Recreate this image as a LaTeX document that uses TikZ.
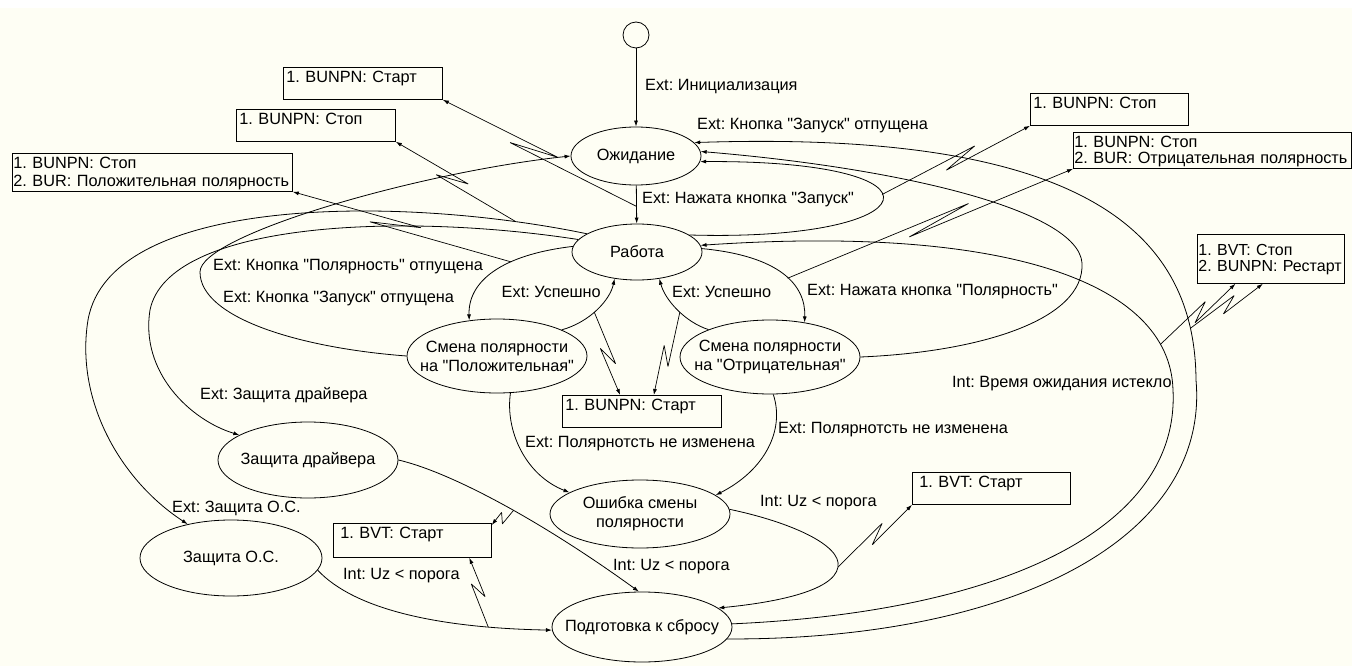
\documentclass[tikz,border=0pt]{standalone}
\usepackage{fontspec}
\setmainfont{Liberation Sans}[Ligatures=TeXOff]
\frenchspacing
\usetikzlibrary{shapes.geometric, positioning, arrows.meta, calc}

\definecolor{paper}{HTML}{FEFEF4}

\tikzset{
  state/.style={ellipse, draw, line width=0.8pt, inner xsep=-24pt, inner ysep=0pt,
    align=center, minimum width=180pt, minimum height=74pt},
  actbox/.style={draw, line width=0.8pt, anchor=north west, align=left,
    inner xsep=3pt, inner ysep=3pt, text height=12pt, text depth=14pt,
    font=\fontsize{16.3}{18}\selectfont},
  trans/.style={line width=0.8pt, -{Latex[length=6pt,width=4pt]}},
  zap/.style={line width=0.7pt, line join=bevel, -{Latex[length=6pt,width=4pt]},
    to path={-- ($(\tikztostart)!0.64!(\tikztotarget)!5pt!90:(\tikztotarget)$)
      -- ($(\tikztostart)!0.42!(\tikztotarget)!5pt!-90:(\tikztotarget)$)
      -- (\tikztotarget) \tikztonodes}},
  lbl/.style={anchor=west, inner sep=0pt},
}

\begin{document}
\begin{tikzpicture}[x=1pt, y=-1pt, font=\fontsize{16.3}{19}\selectfont]
    \useasboundingbox (0,0) rectangle (1352,666);
    \fill[paper] (0,8) rectangle (1352,666);
    % states
    \node[circle, draw, line width=0.8pt, minimum size=26pt, inner sep=0pt] (init) at (636,35) {};
    \node[state, minimum width=130pt, minimum height=58pt] (wait) at (636,156) {Ожидание};
    \node[state, minimum width=130pt, minimum height=56pt] (work) at (637,252) {Работа};
    \node[state] (plus) at (497,356) {Смена полярности\\на "Положительная"};
    \node[state] (minus) at (770,357) {Смена полярности\\на "Отрицательная"};
    \node[state, minimum height=68pt] (err) at (640,514) {Ошибка смены\\полярности};
    \node[state, minimum height=70pt] (prep) at (642,627) {Подготовка к сбросу};
    \node[state, minimum height=76pt] (drv) at (308,460) {Защита драйвера};
    \node[state, minimum width=182pt, minimum height=76pt] (os) at (231,558) {Защита О.С.};
    % action boxes
    \node[actbox, text width=153pt] (b1) at (283,67) {1. BUNPN: Старт};
    \node[actbox, text width=153pt] (b2) at (236,109) {1. BUNPN: Стоп};
    \node[actbox, inner xsep=1pt, text width=278pt, text depth=20pt] (b3) at (12,153)
      {1. BUNPN: Стоп\\2. BUR: Положительная полярность};
    \node[actbox, text width=152pt] (b4) at (1030,93) {1. BUNPN: Стоп};
    \node[actbox, inner xsep=1pt, text width=276pt, text depth=18pt,
      font=\fontsize{16.3}{16}\selectfont] (b5) at (1073,132)
      {1. BUNPN: Стоп\\2. BUR: Отрицательная полярность};
    \node[actbox, inner xsep=1pt, inner ysep=9pt, text width=145pt, text depth=19pt,
      font=\fontsize{16}{16}\selectfont] (b6) at (1197,234)
      {1. BVT: Стоп\\2. BUNPN: Рестарт};
    \node[actbox, inner xsep=7pt, text width=144pt] (b7) at (912,472) {1. BVT: Старт};
    \node[actbox, inner xsep=7pt, text width=144pt, text depth=16pt] (b8) at (333,523) {1. BVT: Старт};
    \node[actbox, text width=153pt] (b9) at (562,395) {1. BUNPN: Старт};
    % labels
    \node[lbl] (lInit) at (645,87) {Ext: Инициализация};
    \node[lbl] (lRelTop) at (697,126) {Ext: Кнопка "Запуск" отпущена};
    \node[lbl] (lPress) at (642,200) {Ext: Нажата кнопка "Запуск"};
    \node[lbl] (lPolRel) at (213,267) {Ext: Кнопка "Полярность" отпущена};
    \node[lbl] (lRelLeft) at (223,299) {Ext: Кнопка "Запуск" отпущена};
    \node[lbl, anchor=east] (lOkLeft) at (601,292) {Ext: Успешно};
    \node[lbl] (lOkRight) at (672,292) {Ext: Успешно};
    \node[lbl] (lPolPress) at (807,292) {Ext: Нажата кнопка "Полярность"};
    \node[lbl] (lDrv) at (200,395) {Ext: Защита драйвера};
    \node[lbl] (lTime) at (952,384) {Int: Время ожидания истекло};
    \node[lbl] (lFailL) at (525,444) {Ext: Полярнотсть не изменена};
    \node[lbl] (lFailR) at (778,430) {Ext: Полярнотсть не изменена};
    \node[lbl] (lOs) at (172,508) {Ext: Защита О.С.};
    \node[lbl] (lUzOs) at (343,576) {Int: Uz < порога};
    \node[lbl] (lUzDrv) at (613,567) {Int: Uz < порога};
    \node[lbl] (lUzErr) at (760,503) {Int: Uz < порога};
    % transitions
    \draw[trans] (init) -- (wait);
    \draw[trans] (wait) -- (work) coordinate[pos=0.55] (z1);
    \draw[trans] (work.18) .. controls (930,242) and (960,160) .. (wait.-5) coordinate[pos=0.55] (z4);
    \draw[trans] (plus.west) .. controls (300,348) and (200,318) .. (200,272)
      .. controls (200,235) and (420,172) .. (wait.west);
    \draw[trans] (minus.east) .. controls (980,352) and (1085,320) .. (1082,263)
      .. controls (1078,210) and (900,168) .. (wait.4);
    \draw[trans] (prep.-8) .. controls (1010,640) and (1210,540) .. (1196,380)
      .. controls (1195,230) and (1080,130) .. (wait.13) coordinate[pos=0.12] (z6b);
    \draw[trans] (prep.2) .. controls (1000,612) and (1180,530) .. (1173,390)
      .. controls (1170,280) and (1000,225) .. (work.6) coordinate[pos=0.15] (z6a);
    \draw[trans] (work.175) .. controls (500,255) and (468,282) .. (plus.128) coordinate[pos=0.35] (z3);
    \draw[trans] (work.3) .. controls (780,256) and (806,285) .. (minus.45) coordinate[pos=0.55] (z5);
    \draw[trans] (plus.22) .. controls (590,322) and (610,300) .. (work.-130) coordinate[pos=0.45] (z9a);
    \draw[trans] (minus.156) .. controls (685,322) and (665,300) .. (work.-50) coordinate[pos=0.45] (z9b);
    \draw[trans] (plus.-70) .. controls (505,430) and (525,475) .. (err.163);
    \draw[trans] (minus.-85) .. controls (785,430) and (765,470) .. (err.14);
    \draw[trans] (err.3) .. controls (790,522) and (842,545) .. (838,567) coordinate (z7)
      .. controls (834,592) and (770,603) .. (prep.14);
    \draw[trans] (work.168) .. controls (400,212) and (168,222) .. (150,310)
      .. controls (140,372) and (190,420) .. (drv.160);
    \draw[trans] (work.160) .. controls (400,195) and (110,195) .. (88,320) coordinate[pos=0.12] (z2)
      .. controls (75,400) and (120,480) .. (os.142);
    \draw[trans] (drv.east) .. controls (450,472) and (540,520) .. (prep.95) coordinate[pos=0.55] (z8a);
    \draw[trans] (os.-8) .. controls (355,610) and (440,628) .. (prep.182) coordinate[pos=0.8] (z8b);
    % actions
    \draw[zap] (z1) to (b1.south east);
    \draw[zap] (z2) to (b2.south east);
    \draw[zap] (z3) to (b3.south east);
    \draw[zap] (z4) to (b4.south west);
    \draw[zap] (z5) to (b5.south west);
    \draw[zap] (z6a) to (b6.-145);
    \draw[zap] (z6b) to (b6.-108);
    \draw[zap] (z7) to (b7.south west);
    \draw[zap] (z8a) to (b8.11);
    \draw[zap] (z8b) to (b8.-17);
    \draw[zap] (z9a) to (b9.143);
    \draw[zap] (z9b) to (b9.54);
\end{tikzpicture}
\end{document}
